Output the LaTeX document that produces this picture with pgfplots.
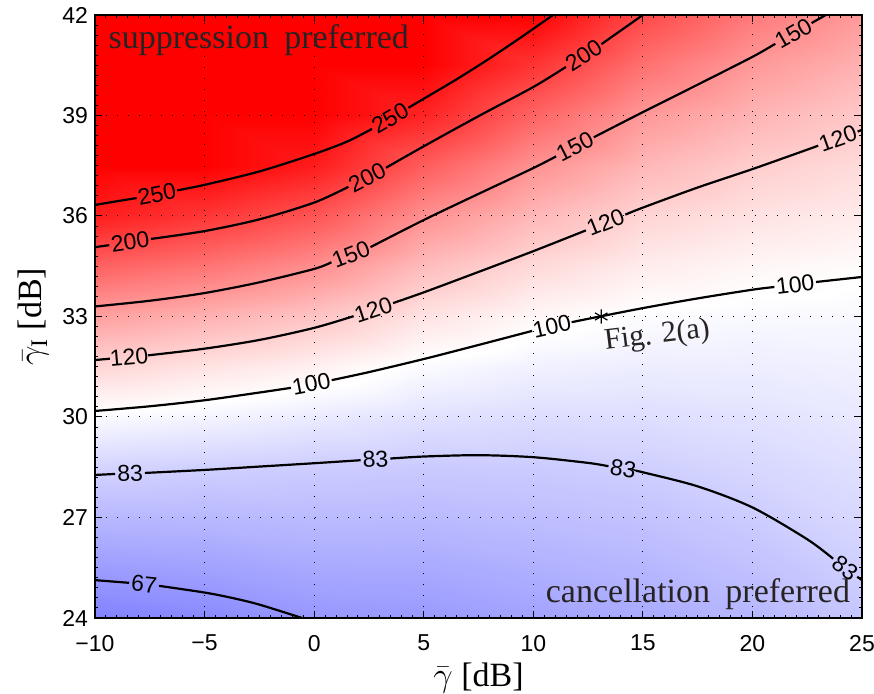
\documentclass[border=0pt]{standalone}
\usepackage{fontspec}
\setmainfont{Liberation Serif}
\setsansfont{Liberation Sans}
\usepackage{pgfplots}
\pgfplotsset{compat=1.18}
\usepackage{pgfplotstable}
\definecolor{txtgray}{RGB}{40,35,35}
\tikzset{cfont/.style={font=\sffamily\fontsize{11.5}{12}\selectfont, inner sep=0pt}}
\pgfplotstableread{
x y v
-10 24 62.1
-5 24 64.0
0 24 67.3
5 24 67.9
10 24 70.3
15 24 72.3
20 24 75.8
25 24 80.7
-10 25.5 68.7
-5 25.5 69.9
0 25.5 72.1
5 25.5 72.2
10 25.5 74.0
15 25.5 75.8
20 25.5 79.0
25 25.5 83.6
-10 27 76.1
-5 27 76.3
0 27 77.1
5 27 76.9
10 27 78.0
15 27 79.4
20 27 82.4
25 27 86.3
-10 28.5 84.9
-5 28.5 83.6
0 28.5 82.5
5 28.5 81.8
10 28.5 82.1
15 28.5 83.3
20 28.5 85.9
25 28.5 88.9
-10 30 98.3
-5 30 95.9
0 30 92.6
5 30 89.4
10 30 88.0
15 30 88.2
20 30 89.7
25 30 91.8
-10 31.5 117.1
-5 31.5 111.2
0 31.5 105.8
5 31.5 98.3
10 31.5 94.8
15 31.5 93.4
20 31.5 93.6
25 31.5 94.6
-10 33 143.8
-5 33 134.8
0 33 125.2
5 33 111.4
10 33 103.2
15 33 98.9
20 33 97.7
25 33 97.6
-10 34.5 182.3
-5 34.5 169.8
0 34.5 153.8
5 34.5 129.0
10 34.5 115.6
15 34.5 107.5
20 34.5 103.5
25 34.5 101.3
-10 36 235.9
-5 36 215.1
0 36 191.4
5 36 152.3
10 36 131.5
15 36 117.6
20 36 111.6
25 36 107.8
-10 37.5 307.6
-5 37.5 274.2
0 37.5 237.7
5 37.5 185.1
10 37.5 151.3
15 37.5 131.6
20 37.5 120.6
25 37.5 114.8
-10 39 400
-5 39 349.4
0 39 295
5 39 230.9
10 39 180.8
15 39 148.1
20 39 133.3
25 39 123.1
-10 40.5 524
-5 40.5 445
0 40.5 366
5 40.5 293
10 40.5 217.3
15 40.5 171.8
20 40.5 147.5
25 40.5 134.4
-10 42 682
-5 42 568
0 42 454
5 42 372
10 42 263.2
15 42 200
20 42 166.4
25 42 146.9
}\bgtable
\begin{document}
\begin{tikzpicture}
\begin{axis}[name=ax, scale only axis, width=383.5pt, height=301.5pt,
  xmin=-10, xmax=25, ymin=24, ymax=42,
  xtick={-10,-5,0,5,10,15,20,25},
  xticklabels={−10,−5,0,5,10,15,20,25},
  ytick={24,27,30,33,36,39,42},
  minor x tick num=9, minor y tick num=9,
  tick align=inside, major tick length=3.5pt, minor tick length=1.5pt,
  grid=major,
  major grid style={black, line width=0.5pt, dash pattern=on 0.6pt off 4.9pt},
  axis on top,
  axis line style={black, line width=0.9pt},
  tick style={black, line width=0.5pt},
  tick label style={font=\sffamily\fontsize{11.5}{13}\selectfont},
  xticklabel style={yshift=-5pt},
  /pgf/number format/assume math mode=true,
  colormap={bwr}{rgb255=(0,0,255) rgb255=(255,255,255) rgb255=(255,0,0)},
  point meta min=-1.4, point meta max=1.4,
  xlabel={$\bar{\gamma}$ [dB]},
  ylabel={$\bar{\gamma}_{\mathrm{I}}$ [dB]},
  label style={font=\fontsize{17}{20}\selectfont},
  xlabel style={yshift=1.2pt},
  cl/.style={black, line width=1.1pt, smooth},
  lab/.style={draw=none},
]
\addplot[surf, shader=interp, mesh/cols=8, mesh/ordering=x varies,
  point meta={ln(\thisrow{v}/100)/ln(2)}] table[x=x, y=y] {\bgtable};

% contour 250
\addplot[cl] coordinates {(-10,36.33) (-9,36.44) (-8.1,36.535)};
\addplot[lab] coordinates {(-8.1,36.535) (-6.25,36.765)} node[pos=0.5, sloped, cfont] {250};
\addplot[cl] coordinates {(-6.25,36.765) (-5,36.93) (-2.5,37.33) (0,37.85) (1.5,38.22) (2.64,38.6)};
\addplot[lab] coordinates {(2.64,38.6) (4.3,39.23)} node[pos=0.5, sloped, cfont] {250};
\addplot[cl] coordinates {(4.3,39.23) (5,39.5) (6.5,40.08) (8,40.7) (9.5,41.36) (10.9,42)};

% contour 200
\addplot[cl] coordinates {(-10,35.07) (-9.35,35.13)};
\addplot[lab] coordinates {(-9.35,35.13) (-7.45,35.315)} node[pos=0.5, sloped, cfont] {200};
\addplot[cl] coordinates {(-7.45,35.315) (-5,35.55) (-2.5,35.9) (0,36.4) (1.56,36.87)};
\addplot[lab] coordinates {(1.56,36.87) (3.28,37.44)} node[pos=0.5, sloped, cfont] {200};
\addplot[cl] coordinates {(3.28,37.44) (5,38.08) (7.5,38.98) (10,39.85) (11.49,40.45)};
\addplot[lab] coordinates {(11.49,40.45) (13.11,41.13)} node[pos=0.5, sloped, cfont] {200};
\addplot[cl] coordinates {(13.11,41.13) (15,42)};

% contour 150
\addplot[cl] coordinates {(-10,33.3) (-7.5,33.47) (-5,33.7) (-2.5,34.02) (0,34.42) (0.79,34.62)};
\addplot[lab] coordinates {(0.79,34.62) (2.57,35.07)} node[pos=0.5, sloped, cfont] {150};
\addplot[cl] coordinates {(2.57,35.07) (5,35.88) (7.5,36.66) (10,37.43) (11.04,37.78)};
\addplot[lab] coordinates {(11.04,37.78) (12.76,38.35)} node[pos=0.5, sloped, cfont] {150};
\addplot[cl] coordinates {(12.76,38.35) (15,39.1) (17.5,39.92) (20,40.75) (21.04,41.14)};
\addplot[lab] coordinates {(21.04,41.14) (22.7,41.76)} node[pos=0.5, sloped, cfont] {150};
\addplot[cl] coordinates {(22.7,41.76) (23.35,42)};

% contour 120
\addplot[cl] coordinates {(-10,31.7) (-9.32,31.74)};
\addplot[lab] coordinates {(-9.32,31.74) (-7.58,31.84)} node[pos=0.5, sloped, cfont] {120};
\addplot[cl] coordinates {(-7.58,31.84) (-5,32.04) (-2.5,32.3) (0,32.66) (1.8,33.01)};
\addplot[lab] coordinates {(1.8,33.01) (3.6,33.4)} node[pos=0.5, sloped, cfont] {120};
\addplot[cl] coordinates {(3.6,33.4) (5,33.72) (7.5,34.33) (10,34.95) (12.4,35.57)};
\addplot[lab] coordinates {(12.4,35.57) (14.2,36.04)} node[pos=0.5, sloped, cfont] {120};
\addplot[cl] coordinates {(14.2,36.04) (15,36.25) (17.5,36.85) (20,37.4) (22.5,37.98) (23,38.1)};
\addplot[lab] coordinates {(23,38.1) (24.8,38.52)} node[pos=0.5, sloped, cfont] {120};
\addplot[cl] coordinates {(24.8,38.52) (25,38.57)};

% contour 100
\addplot[cl] coordinates {(-10,30.18) (-7.5,30.32) (-5,30.5) (-2.5,30.73) (-1.06,30.87)};
\addplot[lab] coordinates {(-1.06,30.87) (0.8,31.1)} node[pos=0.5, sloped, cfont] {100};
\addplot[cl] coordinates {(0.8,31.1) (2.5,31.34) (5,31.73) (7.5,32.15) (9.95,32.57)};
\addplot[lab] coordinates {(9.95,32.57) (11.75,32.83)} node[pos=0.5, sloped, cfont] {100};
\addplot[cl] coordinates {(11.75,32.83) (12.5,32.93) (15,33.25) (17.5,33.54) (20,33.8) (21,33.88)};
\addplot[lab] coordinates {(21,33.88) (22.9,34.03)} node[pos=0.5, sloped, cfont] {100};
\addplot[cl] coordinates {(22.9,34.03) (25,34.18)};

% contour 83
\addplot[cl] coordinates {(-10,28.27) (-9.08,28.3)};
\addplot[lab] coordinates {(-9.08,28.3) (-7.72,28.33)} node[pos=0.5, sloped, cfont] {83};
\addplot[cl] coordinates {(-7.72,28.33) (-5,28.42) (-2.5,28.52) (0,28.62) (2.12,28.71)};
\addplot[lab] coordinates {(2.12,28.71) (3.48,28.76)} node[pos=0.5, sloped, cfont] {83};
\addplot[cl] coordinates {(3.48,28.76) (5,28.82) (7.5,28.86) (10,28.8) (12.5,28.63) (13.43,28.53)};
\addplot[lab] coordinates {(13.43,28.53) (14.77,28.38)} node[pos=0.5, sloped, cfont] {83};
\addplot[cl] coordinates {(14.77,28.38) (15,28.35) (17.5,27.93) (20,27.3) (22.5,26.35) (23.68,25.77)};
\addplot[lab] coordinates {(23.68,25.77) (24.78,25.23)} node[pos=0.5, sloped, cfont] {83};
\addplot[cl] coordinates {(24.78,25.23) (25,25.13)};

% contour 67
\addplot[cl] coordinates {(-10,25.13) (-8.44,25.05)};
\addplot[lab] coordinates {(-8.44,25.05) (-7.08,24.96)} node[pos=0.5, sloped, cfont] {67};
\addplot[cl] coordinates {(-7.08,24.96) (-5,24.76) (-3.75,24.6) (-2.5,24.4) (-0.55,24)};

% marker
\addplot[only marks, mark=asterisk, mark size=3.6pt, black, mark options={line width=0.6pt}] coordinates {(13.1,33)};

\node[anchor=base west, text=txtgray, font=\fontsize{17}{20}\selectfont, inner sep=0pt] at (axis cs:-9.4,41.01) {suppression\hspace{0.45em}preferred};
\node[anchor=base east, text=txtgray, font=\fontsize{17}{20}\selectfont, inner sep=0pt] at (axis cs:24.47,24.45) {cancellation\hspace{0.45em}preferred};
\node[anchor=base west, text=txtgray, font=\fontsize{15}{18}\selectfont, inner sep=0pt, rotate=7] at (axis cs:13.28,32.0) {Fig. 2(a)};
\end{axis}
\pgfresetboundingbox
\path[use as bounding box] ([xshift=-47.5pt,yshift=-37.5pt]ax.south west) rectangle ([xshift=6pt,yshift=7.5pt]ax.north east);
\end{tikzpicture}
\end{document}
